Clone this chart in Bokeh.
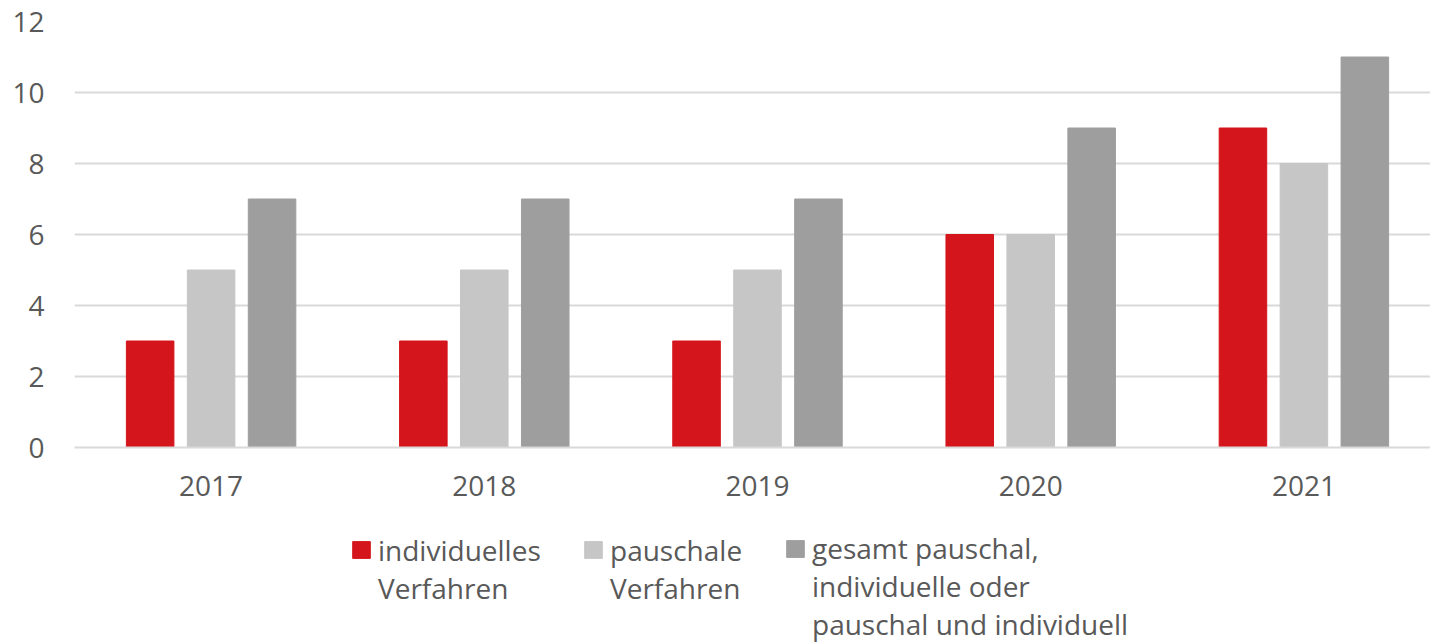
from bokeh.plotting import figure
from bokeh.layouts import column
from bokeh.models import (ColumnDataSource, Range1d, FixedTicker, Legend,
                          LegendItem, SingleIntervalTicker)
from bokeh.transform import dodge
from bokeh.embed import file_html
from bokeh.resources import INLINE

years = ["2017", "2018", "2019", "2020", "2021"]
individuell = [3, 3, 3, 6, 9]
pauschal = [5, 5, 5, 6, 8]
gesamt = [7, 7, 7, 9, 11]
label_lines = [["individuelles", "Verfahren"],
               ["pauschale", "Verfahren"],
               ["gesamt pauschal,", "individuelle oder", "pauschal und individuell"]]
colors = ["#D4151B", "#C6C6C6", "#9E9E9E"]

FONT = "Open Sans"
TXT = "#595959"
FS = 28
LH = 1.3

pos = list(range(len(years)))
src = ColumnDataSource(dict(pos=pos, a=individuell, b=pauschal, c=gesamt))

# the original chart area runs a little past the right edge of the picture
x_rng = Range1d(-0.5, len(years) - 0.5 - 0.0366)

p = figure(x_range=x_rng, y_range=(0, 12),
           width=1430, height=510, output_backend="svg", toolbar_location=None,
           min_border_left=74, min_border_right=0, min_border_top=21,
           min_border_bottom=63)
p.outline_line_color = None

for fld, off, c in zip(["a", "b", "c"], [-0.2231, 0.0, 0.2231], colors):
    p.vbar(x=dodge("pos", off), top=fld, width=0.174, source=src, color=c)

p.xaxis.ticker = FixedTicker(ticks=pos)
p.xaxis.major_label_overrides = {i: y for i, y in zip(pos, years)}
p.yaxis.ticker = SingleIntervalTicker(interval=2)
p.yaxis.axis_line_color = None
p.yaxis.major_tick_line_color = None
p.yaxis.minor_tick_line_color = None
p.yaxis.major_label_standoff = 24
p.xaxis.axis_line_color = "#D9D9D9"
p.xaxis.axis_line_width = 2
p.xaxis.major_tick_line_color = None
p.xaxis.minor_tick_line_color = None
p.xaxis.major_label_standoff = 22
for ax in (p.xaxis, p.yaxis):
    ax.major_label_text_font = FONT
    ax.major_label_text_font_size = f"{FS}px"
    ax.major_label_text_color = TXT

p.xgrid.grid_line_color = None
p.ygrid.grid_line_color = "#D9D9D9"
p.ygrid.grid_line_width = 2

# legend panel below the chart (its own bars are kept out of view; only the
# legend swatches are seen)
LEG_H = 133
lf = figure(width=1430, height=LEG_H, output_backend="svg", toolbar_location=None,
            min_border_left=0, min_border_right=0, min_border_top=0,
            min_border_bottom=0, x_axis_type=None, y_axis_type=None,
            x_range=x_rng, y_range=(100, 101))
lf.grid.visible = False
lf.outline_line_color = None
swatches = [lf.vbar(x="pos", top=fld, width=0.1, source=src, color=c)
            for fld, c in zip(["a", "b", "c"], colors)]
ghost = lf.vbar(x=[], top=[], width=0.1, fill_alpha=0, line_alpha=0)

line_px = FS * LH
top_off = 24
xs = [276, 508, 710]
for sw, lines, x0 in zip(swatches, label_lines, xs):
    items = [LegendItem(label=lines[0], renderers=[sw]),
             LegendItem(label="\n".join(lines[1:]), renderers=[ghost])]
    h = line_px * len(lines)
    lg = Legend(items=items, orientation="vertical",
                location=(x0, LEG_H - top_off - h))
    lg.label_text_font = FONT
    lg.label_text_font_size = f"{FS}px"
    lg.label_text_color = TXT
    lg.label_text_line_height = LH
    lg.label_height = 0
    lg.glyph_width = 22
    lg.glyph_height = 21
    lg.label_standoff = 6
    lg.spacing = 0
    lg.padding = 0
    lg.margin = 0
    lg.border_line_color = None
    lg.background_fill_alpha = 0
    lf.add_layout(lg)

layout = column(p, lf, spacing=0)
open("out.html", "w").write(file_html(layout, INLINE))
